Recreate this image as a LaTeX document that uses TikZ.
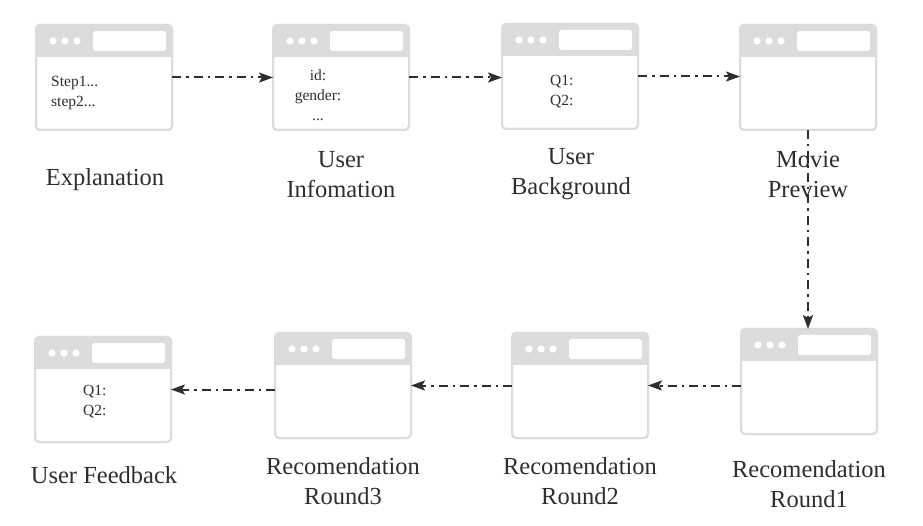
\documentclass[tikz,border=0pt]{standalone}
\usepackage{fontspec}
\setmainfont{Liberation Serif}
\usetikzlibrary{arrows.meta}
\definecolor{frame}{HTML}{DCDCDC}
\definecolor{ink}{HTML}{2E2E2E}
\tikzset{
  winframe/.style={draw=frame, line width=2pt, fill=white, rounded corners=4pt,
    minimum width=136pt, minimum height=105pt, inner sep=0pt, outer sep=0pt},
  flow/.style={draw=ink, line width=2pt, dash pattern=on 9pt off 5pt on 2.5pt off 5pt,
    -{Stealth[length=14pt,width=10pt,inset=3pt]}},
  caption/.style={text=ink, font=\fontsize{24.5}{30}\selectfont, align=center,
    inner sep=0pt, anchor=north},
  boxtext/.style={text=ink, font=\fontsize{15.5}{20}\selectfont, inner sep=0pt,
    anchor=north west, align=left},
}
\newcommand{\winbox}[3]{%
  \node[winframe] (#1) at ({#2+68},{#3+52.5}) {};
  \begin{scope}
    \clip[rounded corners=4pt] (#1.north west) rectangle (#1.south east);
    \fill[frame] (#1.north west) rectangle ([yshift=-32pt]#1.north east);
  \end{scope}
  \draw[frame, line width=2pt, rounded corners=4pt] (#1.north west) rectangle (#1.south east);
  \fill[white] ([xshift=17pt,yshift=-16pt]#1.north west) circle (3.6pt);
  \fill[white] ([xshift=29pt,yshift=-16pt]#1.north west) circle (3.6pt);
  \fill[white] ([xshift=41pt,yshift=-16pt]#1.north west) circle (3.6pt);
  \fill[white, rounded corners=2.5pt] ([xshift=57pt,yshift=-6pt]#1.north west)
    rectangle ([xshift=-6pt,yshift=-26pt]#1.north east);
}
\begin{document}
\begin{tikzpicture}[x=1pt, y=-1pt]
\useasboundingbox (0,0) rectangle (923,526);

\winbox{B1}{36}{25}
\winbox{B2}{273}{25}
\winbox{B3}{502}{24}
\winbox{B4}{740}{25}
\winbox{R1}{741}{329}
\winbox{R2}{512}{333}
\winbox{R3}{275}{333}
\winbox{FB}{35}{337}

% texts inside windows
\node[boxtext] (t1) at (51,76) {Step1...\\step2...};
\node[boxtext, anchor=north, align=center] (t2) at (318,69.5) {id:\\gender:\\...};
\node[boxtext] (t3) at (550,75.5) {Q1:\\Q2:};
\node[boxtext] (t4) at (83,385.5) {Q1:\\Q2:};

% captions
\node[caption] (c1) at (105,168.5) {Explanation};
\node[caption] (c2) at (341,151.5) {User\\Infomation};
\node[caption] (c3) at (571,148.5) {User\\Background};
\node[caption] (c4) at (808,151.5) {Movie\\Preview};
\node[caption] (c5) at (809,460) {Recomendation\\Round1};
\node[caption] (c6) at (580,457.5) {Recomendation\\Round2};
\node[caption] (c7) at (343,457.5) {Recomendation\\Round3};
\node[caption] (c8) at (104,466.5) {User Feedback};

% connectors
\draw[flow] (B1.east) -- (B2.west);
\draw[flow] (B2.east) -- (B2.east -| B3.west);
\draw[flow] (B3.east) -- (B3.east -| B4.west);
\draw[flow] (B4.south) -- (B4.south |- R1.north);
\draw[flow] (R1.west |- R2.east) -- (R2.east);
\draw[flow] (R2.west) -- (R3.east);
\draw[flow] (R3.west |- FB.east) -- (FB.east);
\end{tikzpicture}
\end{document}
